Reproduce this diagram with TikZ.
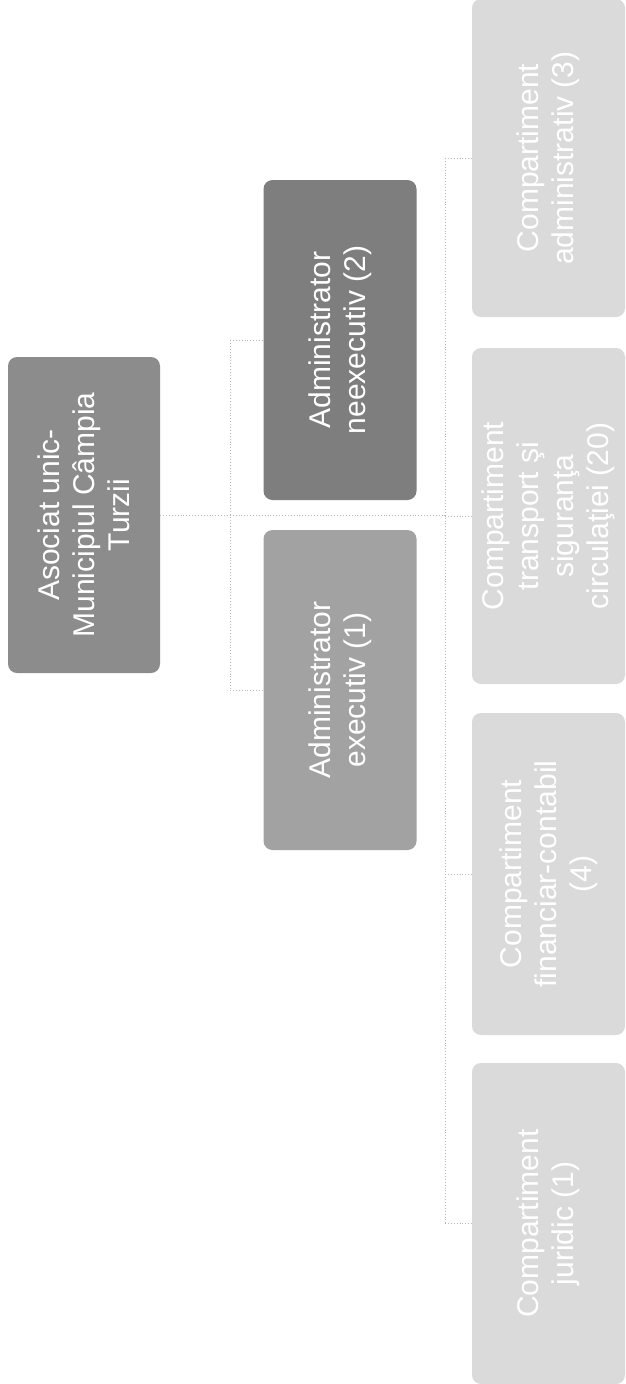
\documentclass[tikz,border=0pt]{standalone}
\usepackage{fontspec}
\setmainfont{Liberation Sans}
\definecolor{rootgray}{HTML}{8C8C8C}
\definecolor{neexgray}{HTML}{7E7E7E}
\definecolor{exgray}{HTML}{A2A2A2}
\definecolor{compgray}{HTML}{DADADA}
\definecolor{conngray}{HTML}{B8B8B8}
\begin{document}
\begin{tikzpicture}[x=1pt,y=1pt,
  orgbox/.style={rounded corners=9pt, text=white, align=center, inner sep=4pt,
    rotate=90, font=\fontsize{30}{35}\selectfont},
  conn/.style={draw=conngray, dotted, line width=0.9pt}]
\useasboundingbox (0,0) rectangle (625,-1384);
\fill[white] (0,0) rectangle (625,-1384);
% level 1
\node[orgbox, fill=rootgray, minimum width=316pt, minimum height=152pt] (root) at (84,-515)
  {Asociat unic-\\Municipiul Câmpia\\Turzii};
% level 2
\node[orgbox, fill=neexgray, minimum width=320pt, minimum height=153pt] (neex) at (340,-340)
  {Administrator\\neexecutiv (2)};
\node[orgbox, fill=exgray, minimum width=320pt, minimum height=153pt] (exec) at (340,-690)
  {Administrator\\executiv (1)};
% level 3
\node[orgbox, fill=compgray, minimum width=318pt, minimum height=153pt] (c1) at (548.5,-158)
  {Compartiment\\administrativ (3)};
\node[orgbox, fill=compgray, minimum width=336pt, minimum height=153pt] (c2) at (548.5,-516)
  {Compartiment\\transport şi\\siguranţa\\circulaţiei (20)};
\node[orgbox, fill=compgray, minimum width=322pt, minimum height=153pt] (c3) at (548.5,-874)
  {Compartiment\\financiar-contabil\\(4)};
\node[orgbox, fill=compgray, minimum width=321pt, minimum height=153pt] (c4) at (548.5,-1223.5)
  {Compartiment\\juridic (1)};
% connectors
\coordinate (trunk) at (445,-515);
\coordinate (abus1) at (230,-340);
\coordinate (abus2) at (230,-690);
\coordinate (bus1) at (445,-158);
\coordinate (bus2) at (445,-516);
\coordinate (bus3) at (445,-874);
\coordinate (bus4) at (445,-1223.5);
\draw[conn] (root.south) -- (trunk);
\draw[conn] (abus1) -- (abus2);
\draw[conn] (abus1) -- (neex.north);
\draw[conn] (abus2) -- (exec.north);
\draw[conn] (bus1) -- (bus4);
\draw[conn] (bus1) -- (c1.north);
\draw[conn] (bus2) -- (c2.north);
\draw[conn] (bus3) -- (c3.north);
\draw[conn] (bus4) -- (c4.north);
\end{tikzpicture}
\end{document}
